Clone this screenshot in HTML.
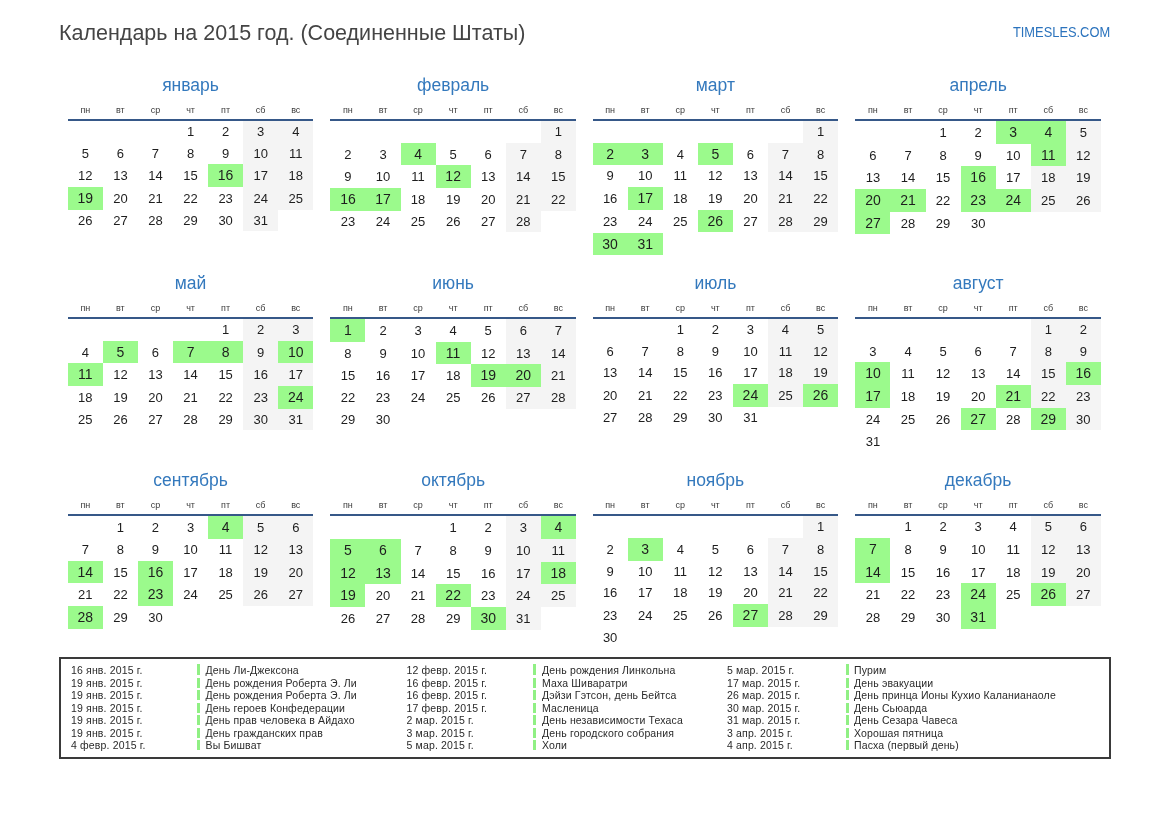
<!DOCTYPE html><html><head><meta charset="utf-8"><style>
*{margin:0;padding:0;box-sizing:border-box}
html,body{width:1169px;height:827px;background:#fff;overflow:hidden}
body{position:relative;font-family:"Liberation Sans",sans-serif;will-change:transform}
.a{position:absolute;white-space:nowrap}
.title{left:59px;top:20px;font-size:21.5px;color:#444;line-height:26px}
.site{right:59px;top:23px;font-size:15.5px;color:#2b73bd;line-height:18px;transform:scaleX(0.83);transform-origin:100% 50%}
.mn{font-size:17.5px;color:#3479bd;text-align:center;width:245.5px;line-height:22px}
.dn{font-size:9px;color:#3c3c3c;text-align:center;width:35.07px;line-height:10px}
.ln{height:2px;width:245.5px;background:#365888}
.c{width:35.07px;text-align:center;font-size:13px;color:#1e1e1e;}
.g{background:#9bfa8c;font-size:14px}
.w{background:#f4f4f4}
.c span{position:absolute;left:0;right:0}
.box{left:59px;top:657px;width:1052px;height:102px;border:2px solid #3a3a3a}
.lg{font-size:10.5px;color:#2a2a2a;line-height:12.5px;letter-spacing:0.15px}
.bar{width:3px;background:#90f084}
</style></head><body>
<div class="a title">Календарь на 2015 год. (Соединенные Штаты)</div>
<div class="a site">TIMESLES.COM</div>
<div class="a mn" style="left:67.8px;top:74.0px">январь</div>
<div class="a dn" style="left:67.8px;top:105.0px">пн</div>
<div class="a dn" style="left:102.87px;top:105.0px">вт</div>
<div class="a dn" style="left:137.94px;top:105.0px">ср</div>
<div class="a dn" style="left:173.01px;top:105.0px">чт</div>
<div class="a dn" style="left:208.07999999999998px;top:105.0px">пт</div>
<div class="a dn" style="left:243.14999999999998px;top:105.0px">сб</div>
<div class="a dn" style="left:278.22px;top:105.0px">вс</div>
<div class="a ln" style="left:67.8px;top:119.0px"></div>
<div class="a c" style="left:173.01px;top:121.00px;height:21.70px;line-height:21.6px">1</div>
<div class="a c" style="left:208.07999999999998px;top:121.00px;height:21.70px;line-height:21.6px">2</div>
<div class="a c w" style="left:243.14999999999998px;top:121.00px;height:21.70px;line-height:21.6px">3</div>
<div class="a c w" style="left:278.22px;top:121.00px;height:21.70px;line-height:21.6px">4</div>
<div class="a c" style="left:67.8px;top:142.70px;height:21.70px;line-height:21.6px">5</div>
<div class="a c" style="left:102.87px;top:142.70px;height:21.70px;line-height:21.6px">6</div>
<div class="a c" style="left:137.94px;top:142.70px;height:21.70px;line-height:21.6px">7</div>
<div class="a c" style="left:173.01px;top:142.70px;height:21.70px;line-height:21.6px">8</div>
<div class="a c" style="left:208.07999999999998px;top:142.70px;height:21.70px;line-height:21.6px">9</div>
<div class="a c w" style="left:243.14999999999998px;top:142.70px;height:21.70px;line-height:21.6px">10</div>
<div class="a c w" style="left:278.22px;top:142.70px;height:21.70px;line-height:21.6px">11</div>
<div class="a c" style="left:67.8px;top:164.40px;height:22.70px;line-height:23.4px">12</div>
<div class="a c" style="left:102.87px;top:164.40px;height:22.70px;line-height:23.4px">13</div>
<div class="a c" style="left:137.94px;top:164.40px;height:22.70px;line-height:23.4px">14</div>
<div class="a c" style="left:173.01px;top:164.40px;height:22.70px;line-height:23.4px">15</div>
<div class="a c g" style="left:208.07999999999998px;top:164.40px;height:22.70px;line-height:22.1px">16</div>
<div class="a c w" style="left:243.14999999999998px;top:164.40px;height:22.70px;line-height:23.4px">17</div>
<div class="a c w" style="left:278.22px;top:164.40px;height:22.70px;line-height:23.4px">18</div>
<div class="a c g" style="left:67.8px;top:187.10px;height:22.70px;line-height:22.1px">19</div>
<div class="a c" style="left:102.87px;top:187.10px;height:22.70px;line-height:23.4px">20</div>
<div class="a c" style="left:137.94px;top:187.10px;height:22.70px;line-height:23.4px">21</div>
<div class="a c" style="left:173.01px;top:187.10px;height:22.70px;line-height:23.4px">22</div>
<div class="a c" style="left:208.07999999999998px;top:187.10px;height:22.70px;line-height:23.4px">23</div>
<div class="a c w" style="left:243.14999999999998px;top:187.10px;height:22.70px;line-height:23.4px">24</div>
<div class="a c w" style="left:278.22px;top:187.10px;height:22.70px;line-height:23.4px">25</div>
<div class="a c" style="left:67.8px;top:209.80px;height:21.70px;line-height:21.6px">26</div>
<div class="a c" style="left:102.87px;top:209.80px;height:21.70px;line-height:21.6px">27</div>
<div class="a c" style="left:137.94px;top:209.80px;height:21.70px;line-height:21.6px">28</div>
<div class="a c" style="left:173.01px;top:209.80px;height:21.70px;line-height:21.6px">29</div>
<div class="a c" style="left:208.07999999999998px;top:209.80px;height:21.70px;line-height:21.6px">30</div>
<div class="a c w" style="left:243.14999999999998px;top:209.80px;height:21.70px;line-height:21.6px">31</div>
<div class="a mn" style="left:330.4px;top:74.0px">февраль</div>
<div class="a dn" style="left:330.4px;top:105.0px">пн</div>
<div class="a dn" style="left:365.46999999999997px;top:105.0px">вт</div>
<div class="a dn" style="left:400.53999999999996px;top:105.0px">ср</div>
<div class="a dn" style="left:435.61px;top:105.0px">чт</div>
<div class="a dn" style="left:470.67999999999995px;top:105.0px">пт</div>
<div class="a dn" style="left:505.75px;top:105.0px">сб</div>
<div class="a dn" style="left:540.8199999999999px;top:105.0px">вс</div>
<div class="a ln" style="left:330.4px;top:119.0px"></div>
<div class="a c w" style="left:540.8199999999999px;top:121.00px;height:21.70px;line-height:21.6px">1</div>
<div class="a c" style="left:330.4px;top:142.70px;height:22.70px;line-height:23.4px">2</div>
<div class="a c" style="left:365.46999999999997px;top:142.70px;height:22.70px;line-height:23.4px">3</div>
<div class="a c g" style="left:400.53999999999996px;top:142.70px;height:22.70px;line-height:22.1px">4</div>
<div class="a c" style="left:435.61px;top:142.70px;height:22.70px;line-height:23.4px">5</div>
<div class="a c" style="left:470.67999999999995px;top:142.70px;height:22.70px;line-height:23.4px">6</div>
<div class="a c w" style="left:505.75px;top:142.70px;height:22.70px;line-height:23.4px">7</div>
<div class="a c w" style="left:540.8199999999999px;top:142.70px;height:22.70px;line-height:23.4px">8</div>
<div class="a c" style="left:330.4px;top:165.40px;height:22.70px;line-height:23.4px">9</div>
<div class="a c" style="left:365.46999999999997px;top:165.40px;height:22.70px;line-height:23.4px">10</div>
<div class="a c" style="left:400.53999999999996px;top:165.40px;height:22.70px;line-height:23.4px">11</div>
<div class="a c g" style="left:435.61px;top:165.40px;height:22.70px;line-height:22.1px">12</div>
<div class="a c" style="left:470.67999999999995px;top:165.40px;height:22.70px;line-height:23.4px">13</div>
<div class="a c w" style="left:505.75px;top:165.40px;height:22.70px;line-height:23.4px">14</div>
<div class="a c w" style="left:540.8199999999999px;top:165.40px;height:22.70px;line-height:23.4px">15</div>
<div class="a c g" style="left:330.4px;top:188.10px;height:22.70px;line-height:22.1px">16</div>
<div class="a c g" style="left:365.46999999999997px;top:188.10px;height:22.70px;line-height:22.1px">17</div>
<div class="a c" style="left:400.53999999999996px;top:188.10px;height:22.70px;line-height:23.4px">18</div>
<div class="a c" style="left:435.61px;top:188.10px;height:22.70px;line-height:23.4px">19</div>
<div class="a c" style="left:470.67999999999995px;top:188.10px;height:22.70px;line-height:23.4px">20</div>
<div class="a c w" style="left:505.75px;top:188.10px;height:22.70px;line-height:23.4px">21</div>
<div class="a c w" style="left:540.8199999999999px;top:188.10px;height:22.70px;line-height:23.4px">22</div>
<div class="a c" style="left:330.4px;top:210.80px;height:21.70px;line-height:21.6px">23</div>
<div class="a c" style="left:365.46999999999997px;top:210.80px;height:21.70px;line-height:21.6px">24</div>
<div class="a c" style="left:400.53999999999996px;top:210.80px;height:21.70px;line-height:21.6px">25</div>
<div class="a c" style="left:435.61px;top:210.80px;height:21.70px;line-height:21.6px">26</div>
<div class="a c" style="left:470.67999999999995px;top:210.80px;height:21.70px;line-height:21.6px">27</div>
<div class="a c w" style="left:505.75px;top:210.80px;height:21.70px;line-height:21.6px">28</div>
<div class="a mn" style="left:592.6px;top:74.0px">март</div>
<div class="a dn" style="left:592.6px;top:105.0px">пн</div>
<div class="a dn" style="left:627.6700000000001px;top:105.0px">вт</div>
<div class="a dn" style="left:662.74px;top:105.0px">ср</div>
<div class="a dn" style="left:697.8100000000001px;top:105.0px">чт</div>
<div class="a dn" style="left:732.88px;top:105.0px">пт</div>
<div class="a dn" style="left:767.95px;top:105.0px">сб</div>
<div class="a dn" style="left:803.02px;top:105.0px">вс</div>
<div class="a ln" style="left:592.6px;top:119.0px"></div>
<div class="a c w" style="left:803.02px;top:121.00px;height:21.70px;line-height:21.6px">1</div>
<div class="a c g" style="left:592.6px;top:142.70px;height:22.70px;line-height:22.1px">2</div>
<div class="a c g" style="left:627.6700000000001px;top:142.70px;height:22.70px;line-height:22.1px">3</div>
<div class="a c" style="left:662.74px;top:142.70px;height:22.70px;line-height:23.4px">4</div>
<div class="a c g" style="left:697.8100000000001px;top:142.70px;height:22.70px;line-height:22.1px">5</div>
<div class="a c" style="left:732.88px;top:142.70px;height:22.70px;line-height:23.4px">6</div>
<div class="a c w" style="left:767.95px;top:142.70px;height:22.70px;line-height:23.4px">7</div>
<div class="a c w" style="left:803.02px;top:142.70px;height:22.70px;line-height:23.4px">8</div>
<div class="a c" style="left:592.6px;top:165.40px;height:21.70px;line-height:21.6px">9</div>
<div class="a c" style="left:627.6700000000001px;top:165.40px;height:21.70px;line-height:21.6px">10</div>
<div class="a c" style="left:662.74px;top:165.40px;height:21.70px;line-height:21.6px">11</div>
<div class="a c" style="left:697.8100000000001px;top:165.40px;height:21.70px;line-height:21.6px">12</div>
<div class="a c" style="left:732.88px;top:165.40px;height:21.70px;line-height:21.6px">13</div>
<div class="a c w" style="left:767.95px;top:165.40px;height:21.70px;line-height:21.6px">14</div>
<div class="a c w" style="left:803.02px;top:165.40px;height:21.70px;line-height:21.6px">15</div>
<div class="a c" style="left:592.6px;top:187.10px;height:22.70px;line-height:23.4px">16</div>
<div class="a c g" style="left:627.6700000000001px;top:187.10px;height:22.70px;line-height:22.1px">17</div>
<div class="a c" style="left:662.74px;top:187.10px;height:22.70px;line-height:23.4px">18</div>
<div class="a c" style="left:697.8100000000001px;top:187.10px;height:22.70px;line-height:23.4px">19</div>
<div class="a c" style="left:732.88px;top:187.10px;height:22.70px;line-height:23.4px">20</div>
<div class="a c w" style="left:767.95px;top:187.10px;height:22.70px;line-height:23.4px">21</div>
<div class="a c w" style="left:803.02px;top:187.10px;height:22.70px;line-height:23.4px">22</div>
<div class="a c" style="left:592.6px;top:209.80px;height:22.70px;line-height:23.4px">23</div>
<div class="a c" style="left:627.6700000000001px;top:209.80px;height:22.70px;line-height:23.4px">24</div>
<div class="a c" style="left:662.74px;top:209.80px;height:22.70px;line-height:23.4px">25</div>
<div class="a c g" style="left:697.8100000000001px;top:209.80px;height:22.70px;line-height:22.1px">26</div>
<div class="a c" style="left:732.88px;top:209.80px;height:22.70px;line-height:23.4px">27</div>
<div class="a c w" style="left:767.95px;top:209.80px;height:22.70px;line-height:23.4px">28</div>
<div class="a c w" style="left:803.02px;top:209.80px;height:22.70px;line-height:23.4px">29</div>
<div class="a c g" style="left:592.6px;top:232.50px;height:22.70px;line-height:22.1px">30</div>
<div class="a c g" style="left:627.6700000000001px;top:232.50px;height:22.70px;line-height:22.1px">31</div>
<div class="a mn" style="left:855.4px;top:74.0px">апрель</div>
<div class="a dn" style="left:855.4px;top:105.0px">пн</div>
<div class="a dn" style="left:890.47px;top:105.0px">вт</div>
<div class="a dn" style="left:925.54px;top:105.0px">ср</div>
<div class="a dn" style="left:960.61px;top:105.0px">чт</div>
<div class="a dn" style="left:995.68px;top:105.0px">пт</div>
<div class="a dn" style="left:1030.75px;top:105.0px">сб</div>
<div class="a dn" style="left:1065.82px;top:105.0px">вс</div>
<div class="a ln" style="left:855.4px;top:119.0px"></div>
<div class="a c" style="left:925.54px;top:121.00px;height:22.70px;line-height:23.4px">1</div>
<div class="a c" style="left:960.61px;top:121.00px;height:22.70px;line-height:23.4px">2</div>
<div class="a c g" style="left:995.68px;top:121.00px;height:22.70px;line-height:22.1px">3</div>
<div class="a c g" style="left:1030.75px;top:121.00px;height:22.70px;line-height:22.1px">4</div>
<div class="a c w" style="left:1065.82px;top:121.00px;height:22.70px;line-height:23.4px">5</div>
<div class="a c" style="left:855.4px;top:143.70px;height:22.70px;line-height:23.4px">6</div>
<div class="a c" style="left:890.47px;top:143.70px;height:22.70px;line-height:23.4px">7</div>
<div class="a c" style="left:925.54px;top:143.70px;height:22.70px;line-height:23.4px">8</div>
<div class="a c" style="left:960.61px;top:143.70px;height:22.70px;line-height:23.4px">9</div>
<div class="a c" style="left:995.68px;top:143.70px;height:22.70px;line-height:23.4px">10</div>
<div class="a c g" style="left:1030.75px;top:143.70px;height:22.70px;line-height:22.1px">11</div>
<div class="a c w" style="left:1065.82px;top:143.70px;height:22.70px;line-height:23.4px">12</div>
<div class="a c" style="left:855.4px;top:166.40px;height:22.70px;line-height:23.4px">13</div>
<div class="a c" style="left:890.47px;top:166.40px;height:22.70px;line-height:23.4px">14</div>
<div class="a c" style="left:925.54px;top:166.40px;height:22.70px;line-height:23.4px">15</div>
<div class="a c g" style="left:960.61px;top:166.40px;height:22.70px;line-height:22.1px">16</div>
<div class="a c" style="left:995.68px;top:166.40px;height:22.70px;line-height:23.4px">17</div>
<div class="a c w" style="left:1030.75px;top:166.40px;height:22.70px;line-height:23.4px">18</div>
<div class="a c w" style="left:1065.82px;top:166.40px;height:22.70px;line-height:23.4px">19</div>
<div class="a c g" style="left:855.4px;top:189.10px;height:22.70px;line-height:22.1px">20</div>
<div class="a c g" style="left:890.47px;top:189.10px;height:22.70px;line-height:22.1px">21</div>
<div class="a c" style="left:925.54px;top:189.10px;height:22.70px;line-height:23.4px">22</div>
<div class="a c g" style="left:960.61px;top:189.10px;height:22.70px;line-height:22.1px">23</div>
<div class="a c g" style="left:995.68px;top:189.10px;height:22.70px;line-height:22.1px">24</div>
<div class="a c w" style="left:1030.75px;top:189.10px;height:22.70px;line-height:23.4px">25</div>
<div class="a c w" style="left:1065.82px;top:189.10px;height:22.70px;line-height:23.4px">26</div>
<div class="a c g" style="left:855.4px;top:211.80px;height:22.70px;line-height:22.1px">27</div>
<div class="a c" style="left:890.47px;top:211.80px;height:22.70px;line-height:23.4px">28</div>
<div class="a c" style="left:925.54px;top:211.80px;height:22.70px;line-height:23.4px">29</div>
<div class="a c" style="left:960.61px;top:211.80px;height:22.70px;line-height:23.4px">30</div>
<div class="a mn" style="left:67.8px;top:272.0px">май</div>
<div class="a dn" style="left:67.8px;top:303.0px">пн</div>
<div class="a dn" style="left:102.87px;top:303.0px">вт</div>
<div class="a dn" style="left:137.94px;top:303.0px">ср</div>
<div class="a dn" style="left:173.01px;top:303.0px">чт</div>
<div class="a dn" style="left:208.07999999999998px;top:303.0px">пт</div>
<div class="a dn" style="left:243.14999999999998px;top:303.0px">сб</div>
<div class="a dn" style="left:278.22px;top:303.0px">вс</div>
<div class="a ln" style="left:67.8px;top:317.0px"></div>
<div class="a c" style="left:208.07999999999998px;top:319.00px;height:21.70px;line-height:21.6px">1</div>
<div class="a c w" style="left:243.14999999999998px;top:319.00px;height:21.70px;line-height:21.6px">2</div>
<div class="a c w" style="left:278.22px;top:319.00px;height:21.70px;line-height:21.6px">3</div>
<div class="a c" style="left:67.8px;top:340.70px;height:22.70px;line-height:23.4px">4</div>
<div class="a c g" style="left:102.87px;top:340.70px;height:22.70px;line-height:22.1px">5</div>
<div class="a c" style="left:137.94px;top:340.70px;height:22.70px;line-height:23.4px">6</div>
<div class="a c g" style="left:173.01px;top:340.70px;height:22.70px;line-height:22.1px">7</div>
<div class="a c g" style="left:208.07999999999998px;top:340.70px;height:22.70px;line-height:22.1px">8</div>
<div class="a c w" style="left:243.14999999999998px;top:340.70px;height:22.70px;line-height:23.4px">9</div>
<div class="a c g" style="left:278.22px;top:340.70px;height:22.70px;line-height:22.1px">10</div>
<div class="a c g" style="left:67.8px;top:363.40px;height:22.70px;line-height:22.1px">11</div>
<div class="a c" style="left:102.87px;top:363.40px;height:22.70px;line-height:23.4px">12</div>
<div class="a c" style="left:137.94px;top:363.40px;height:22.70px;line-height:23.4px">13</div>
<div class="a c" style="left:173.01px;top:363.40px;height:22.70px;line-height:23.4px">14</div>
<div class="a c" style="left:208.07999999999998px;top:363.40px;height:22.70px;line-height:23.4px">15</div>
<div class="a c w" style="left:243.14999999999998px;top:363.40px;height:22.70px;line-height:23.4px">16</div>
<div class="a c w" style="left:278.22px;top:363.40px;height:22.70px;line-height:23.4px">17</div>
<div class="a c" style="left:67.8px;top:386.10px;height:22.70px;line-height:23.4px">18</div>
<div class="a c" style="left:102.87px;top:386.10px;height:22.70px;line-height:23.4px">19</div>
<div class="a c" style="left:137.94px;top:386.10px;height:22.70px;line-height:23.4px">20</div>
<div class="a c" style="left:173.01px;top:386.10px;height:22.70px;line-height:23.4px">21</div>
<div class="a c" style="left:208.07999999999998px;top:386.10px;height:22.70px;line-height:23.4px">22</div>
<div class="a c w" style="left:243.14999999999998px;top:386.10px;height:22.70px;line-height:23.4px">23</div>
<div class="a c g" style="left:278.22px;top:386.10px;height:22.70px;line-height:22.1px">24</div>
<div class="a c" style="left:67.8px;top:408.80px;height:21.70px;line-height:21.6px">25</div>
<div class="a c" style="left:102.87px;top:408.80px;height:21.70px;line-height:21.6px">26</div>
<div class="a c" style="left:137.94px;top:408.80px;height:21.70px;line-height:21.6px">27</div>
<div class="a c" style="left:173.01px;top:408.80px;height:21.70px;line-height:21.6px">28</div>
<div class="a c" style="left:208.07999999999998px;top:408.80px;height:21.70px;line-height:21.6px">29</div>
<div class="a c w" style="left:243.14999999999998px;top:408.80px;height:21.70px;line-height:21.6px">30</div>
<div class="a c w" style="left:278.22px;top:408.80px;height:21.70px;line-height:21.6px">31</div>
<div class="a mn" style="left:330.4px;top:272.0px">июнь</div>
<div class="a dn" style="left:330.4px;top:303.0px">пн</div>
<div class="a dn" style="left:365.46999999999997px;top:303.0px">вт</div>
<div class="a dn" style="left:400.53999999999996px;top:303.0px">ср</div>
<div class="a dn" style="left:435.61px;top:303.0px">чт</div>
<div class="a dn" style="left:470.67999999999995px;top:303.0px">пт</div>
<div class="a dn" style="left:505.75px;top:303.0px">сб</div>
<div class="a dn" style="left:540.8199999999999px;top:303.0px">вс</div>
<div class="a ln" style="left:330.4px;top:317.0px"></div>
<div class="a c g" style="left:330.4px;top:319.00px;height:22.70px;line-height:22.1px">1</div>
<div class="a c" style="left:365.46999999999997px;top:319.00px;height:22.70px;line-height:23.4px">2</div>
<div class="a c" style="left:400.53999999999996px;top:319.00px;height:22.70px;line-height:23.4px">3</div>
<div class="a c" style="left:435.61px;top:319.00px;height:22.70px;line-height:23.4px">4</div>
<div class="a c" style="left:470.67999999999995px;top:319.00px;height:22.70px;line-height:23.4px">5</div>
<div class="a c w" style="left:505.75px;top:319.00px;height:22.70px;line-height:23.4px">6</div>
<div class="a c w" style="left:540.8199999999999px;top:319.00px;height:22.70px;line-height:23.4px">7</div>
<div class="a c" style="left:330.4px;top:341.70px;height:22.70px;line-height:23.4px">8</div>
<div class="a c" style="left:365.46999999999997px;top:341.70px;height:22.70px;line-height:23.4px">9</div>
<div class="a c" style="left:400.53999999999996px;top:341.70px;height:22.70px;line-height:23.4px">10</div>
<div class="a c g" style="left:435.61px;top:341.70px;height:22.70px;line-height:22.1px">11</div>
<div class="a c" style="left:470.67999999999995px;top:341.70px;height:22.70px;line-height:23.4px">12</div>
<div class="a c w" style="left:505.75px;top:341.70px;height:22.70px;line-height:23.4px">13</div>
<div class="a c w" style="left:540.8199999999999px;top:341.70px;height:22.70px;line-height:23.4px">14</div>
<div class="a c" style="left:330.4px;top:364.40px;height:22.70px;line-height:23.4px">15</div>
<div class="a c" style="left:365.46999999999997px;top:364.40px;height:22.70px;line-height:23.4px">16</div>
<div class="a c" style="left:400.53999999999996px;top:364.40px;height:22.70px;line-height:23.4px">17</div>
<div class="a c" style="left:435.61px;top:364.40px;height:22.70px;line-height:23.4px">18</div>
<div class="a c g" style="left:470.67999999999995px;top:364.40px;height:22.70px;line-height:22.1px">19</div>
<div class="a c g" style="left:505.75px;top:364.40px;height:22.70px;line-height:22.1px">20</div>
<div class="a c w" style="left:540.8199999999999px;top:364.40px;height:22.70px;line-height:23.4px">21</div>
<div class="a c" style="left:330.4px;top:387.10px;height:21.70px;line-height:21.6px">22</div>
<div class="a c" style="left:365.46999999999997px;top:387.10px;height:21.70px;line-height:21.6px">23</div>
<div class="a c" style="left:400.53999999999996px;top:387.10px;height:21.70px;line-height:21.6px">24</div>
<div class="a c" style="left:435.61px;top:387.10px;height:21.70px;line-height:21.6px">25</div>
<div class="a c" style="left:470.67999999999995px;top:387.10px;height:21.70px;line-height:21.6px">26</div>
<div class="a c w" style="left:505.75px;top:387.10px;height:21.70px;line-height:21.6px">27</div>
<div class="a c w" style="left:540.8199999999999px;top:387.10px;height:21.70px;line-height:21.6px">28</div>
<div class="a c" style="left:330.4px;top:408.80px;height:21.70px;line-height:21.6px">29</div>
<div class="a c" style="left:365.46999999999997px;top:408.80px;height:21.70px;line-height:21.6px">30</div>
<div class="a mn" style="left:592.6px;top:272.0px">июль</div>
<div class="a dn" style="left:592.6px;top:303.0px">пн</div>
<div class="a dn" style="left:627.6700000000001px;top:303.0px">вт</div>
<div class="a dn" style="left:662.74px;top:303.0px">ср</div>
<div class="a dn" style="left:697.8100000000001px;top:303.0px">чт</div>
<div class="a dn" style="left:732.88px;top:303.0px">пт</div>
<div class="a dn" style="left:767.95px;top:303.0px">сб</div>
<div class="a dn" style="left:803.02px;top:303.0px">вс</div>
<div class="a ln" style="left:592.6px;top:317.0px"></div>
<div class="a c" style="left:662.74px;top:319.00px;height:21.70px;line-height:21.6px">1</div>
<div class="a c" style="left:697.8100000000001px;top:319.00px;height:21.70px;line-height:21.6px">2</div>
<div class="a c" style="left:732.88px;top:319.00px;height:21.70px;line-height:21.6px">3</div>
<div class="a c w" style="left:767.95px;top:319.00px;height:21.70px;line-height:21.6px">4</div>
<div class="a c w" style="left:803.02px;top:319.00px;height:21.70px;line-height:21.6px">5</div>
<div class="a c" style="left:592.6px;top:340.70px;height:21.70px;line-height:21.6px">6</div>
<div class="a c" style="left:627.6700000000001px;top:340.70px;height:21.70px;line-height:21.6px">7</div>
<div class="a c" style="left:662.74px;top:340.70px;height:21.70px;line-height:21.6px">8</div>
<div class="a c" style="left:697.8100000000001px;top:340.70px;height:21.70px;line-height:21.6px">9</div>
<div class="a c" style="left:732.88px;top:340.70px;height:21.70px;line-height:21.6px">10</div>
<div class="a c w" style="left:767.95px;top:340.70px;height:21.70px;line-height:21.6px">11</div>
<div class="a c w" style="left:803.02px;top:340.70px;height:21.70px;line-height:21.6px">12</div>
<div class="a c" style="left:592.6px;top:362.40px;height:21.70px;line-height:21.6px">13</div>
<div class="a c" style="left:627.6700000000001px;top:362.40px;height:21.70px;line-height:21.6px">14</div>
<div class="a c" style="left:662.74px;top:362.40px;height:21.70px;line-height:21.6px">15</div>
<div class="a c" style="left:697.8100000000001px;top:362.40px;height:21.70px;line-height:21.6px">16</div>
<div class="a c" style="left:732.88px;top:362.40px;height:21.70px;line-height:21.6px">17</div>
<div class="a c w" style="left:767.95px;top:362.40px;height:21.70px;line-height:21.6px">18</div>
<div class="a c w" style="left:803.02px;top:362.40px;height:21.70px;line-height:21.6px">19</div>
<div class="a c" style="left:592.6px;top:384.10px;height:22.70px;line-height:23.4px">20</div>
<div class="a c" style="left:627.6700000000001px;top:384.10px;height:22.70px;line-height:23.4px">21</div>
<div class="a c" style="left:662.74px;top:384.10px;height:22.70px;line-height:23.4px">22</div>
<div class="a c" style="left:697.8100000000001px;top:384.10px;height:22.70px;line-height:23.4px">23</div>
<div class="a c g" style="left:732.88px;top:384.10px;height:22.70px;line-height:22.1px">24</div>
<div class="a c w" style="left:767.95px;top:384.10px;height:22.70px;line-height:23.4px">25</div>
<div class="a c g" style="left:803.02px;top:384.10px;height:22.70px;line-height:22.1px">26</div>
<div class="a c" style="left:592.6px;top:406.80px;height:21.70px;line-height:21.6px">27</div>
<div class="a c" style="left:627.6700000000001px;top:406.80px;height:21.70px;line-height:21.6px">28</div>
<div class="a c" style="left:662.74px;top:406.80px;height:21.70px;line-height:21.6px">29</div>
<div class="a c" style="left:697.8100000000001px;top:406.80px;height:21.70px;line-height:21.6px">30</div>
<div class="a c" style="left:732.88px;top:406.80px;height:21.70px;line-height:21.6px">31</div>
<div class="a mn" style="left:855.4px;top:272.0px">август</div>
<div class="a dn" style="left:855.4px;top:303.0px">пн</div>
<div class="a dn" style="left:890.47px;top:303.0px">вт</div>
<div class="a dn" style="left:925.54px;top:303.0px">ср</div>
<div class="a dn" style="left:960.61px;top:303.0px">чт</div>
<div class="a dn" style="left:995.68px;top:303.0px">пт</div>
<div class="a dn" style="left:1030.75px;top:303.0px">сб</div>
<div class="a dn" style="left:1065.82px;top:303.0px">вс</div>
<div class="a ln" style="left:855.4px;top:317.0px"></div>
<div class="a c w" style="left:1030.75px;top:319.00px;height:21.70px;line-height:21.6px">1</div>
<div class="a c w" style="left:1065.82px;top:319.00px;height:21.70px;line-height:21.6px">2</div>
<div class="a c" style="left:855.4px;top:340.70px;height:21.70px;line-height:21.6px">3</div>
<div class="a c" style="left:890.47px;top:340.70px;height:21.70px;line-height:21.6px">4</div>
<div class="a c" style="left:925.54px;top:340.70px;height:21.70px;line-height:21.6px">5</div>
<div class="a c" style="left:960.61px;top:340.70px;height:21.70px;line-height:21.6px">6</div>
<div class="a c" style="left:995.68px;top:340.70px;height:21.70px;line-height:21.6px">7</div>
<div class="a c w" style="left:1030.75px;top:340.70px;height:21.70px;line-height:21.6px">8</div>
<div class="a c w" style="left:1065.82px;top:340.70px;height:21.70px;line-height:21.6px">9</div>
<div class="a c g" style="left:855.4px;top:362.40px;height:22.70px;line-height:22.1px">10</div>
<div class="a c" style="left:890.47px;top:362.40px;height:22.70px;line-height:23.4px">11</div>
<div class="a c" style="left:925.54px;top:362.40px;height:22.70px;line-height:23.4px">12</div>
<div class="a c" style="left:960.61px;top:362.40px;height:22.70px;line-height:23.4px">13</div>
<div class="a c" style="left:995.68px;top:362.40px;height:22.70px;line-height:23.4px">14</div>
<div class="a c w" style="left:1030.75px;top:362.40px;height:22.70px;line-height:23.4px">15</div>
<div class="a c g" style="left:1065.82px;top:362.40px;height:22.70px;line-height:22.1px">16</div>
<div class="a c g" style="left:855.4px;top:385.10px;height:22.70px;line-height:22.1px">17</div>
<div class="a c" style="left:890.47px;top:385.10px;height:22.70px;line-height:23.4px">18</div>
<div class="a c" style="left:925.54px;top:385.10px;height:22.70px;line-height:23.4px">19</div>
<div class="a c" style="left:960.61px;top:385.10px;height:22.70px;line-height:23.4px">20</div>
<div class="a c g" style="left:995.68px;top:385.10px;height:22.70px;line-height:22.1px">21</div>
<div class="a c w" style="left:1030.75px;top:385.10px;height:22.70px;line-height:23.4px">22</div>
<div class="a c w" style="left:1065.82px;top:385.10px;height:22.70px;line-height:23.4px">23</div>
<div class="a c" style="left:855.4px;top:407.80px;height:22.70px;line-height:23.4px">24</div>
<div class="a c" style="left:890.47px;top:407.80px;height:22.70px;line-height:23.4px">25</div>
<div class="a c" style="left:925.54px;top:407.80px;height:22.70px;line-height:23.4px">26</div>
<div class="a c g" style="left:960.61px;top:407.80px;height:22.70px;line-height:22.1px">27</div>
<div class="a c" style="left:995.68px;top:407.80px;height:22.70px;line-height:23.4px">28</div>
<div class="a c g" style="left:1030.75px;top:407.80px;height:22.70px;line-height:22.1px">29</div>
<div class="a c w" style="left:1065.82px;top:407.80px;height:22.70px;line-height:23.4px">30</div>
<div class="a c" style="left:855.4px;top:430.50px;height:21.70px;line-height:21.6px">31</div>
<div class="a mn" style="left:67.8px;top:469.20000000000005px">сентябрь</div>
<div class="a dn" style="left:67.8px;top:500.20000000000005px">пн</div>
<div class="a dn" style="left:102.87px;top:500.20000000000005px">вт</div>
<div class="a dn" style="left:137.94px;top:500.20000000000005px">ср</div>
<div class="a dn" style="left:173.01px;top:500.20000000000005px">чт</div>
<div class="a dn" style="left:208.07999999999998px;top:500.20000000000005px">пт</div>
<div class="a dn" style="left:243.14999999999998px;top:500.20000000000005px">сб</div>
<div class="a dn" style="left:278.22px;top:500.20000000000005px">вс</div>
<div class="a ln" style="left:67.8px;top:514.2px"></div>
<div class="a c" style="left:102.87px;top:516.20px;height:22.70px;line-height:23.4px">1</div>
<div class="a c" style="left:137.94px;top:516.20px;height:22.70px;line-height:23.4px">2</div>
<div class="a c" style="left:173.01px;top:516.20px;height:22.70px;line-height:23.4px">3</div>
<div class="a c g" style="left:208.07999999999998px;top:516.20px;height:22.70px;line-height:22.1px">4</div>
<div class="a c w" style="left:243.14999999999998px;top:516.20px;height:22.70px;line-height:23.4px">5</div>
<div class="a c w" style="left:278.22px;top:516.20px;height:22.70px;line-height:23.4px">6</div>
<div class="a c" style="left:67.8px;top:538.90px;height:21.70px;line-height:21.6px">7</div>
<div class="a c" style="left:102.87px;top:538.90px;height:21.70px;line-height:21.6px">8</div>
<div class="a c" style="left:137.94px;top:538.90px;height:21.70px;line-height:21.6px">9</div>
<div class="a c" style="left:173.01px;top:538.90px;height:21.70px;line-height:21.6px">10</div>
<div class="a c" style="left:208.07999999999998px;top:538.90px;height:21.70px;line-height:21.6px">11</div>
<div class="a c w" style="left:243.14999999999998px;top:538.90px;height:21.70px;line-height:21.6px">12</div>
<div class="a c w" style="left:278.22px;top:538.90px;height:21.70px;line-height:21.6px">13</div>
<div class="a c g" style="left:67.8px;top:560.60px;height:22.70px;line-height:22.1px">14</div>
<div class="a c" style="left:102.87px;top:560.60px;height:22.70px;line-height:23.4px">15</div>
<div class="a c g" style="left:137.94px;top:560.60px;height:22.70px;line-height:22.1px">16</div>
<div class="a c" style="left:173.01px;top:560.60px;height:22.70px;line-height:23.4px">17</div>
<div class="a c" style="left:208.07999999999998px;top:560.60px;height:22.70px;line-height:23.4px">18</div>
<div class="a c w" style="left:243.14999999999998px;top:560.60px;height:22.70px;line-height:23.4px">19</div>
<div class="a c w" style="left:278.22px;top:560.60px;height:22.70px;line-height:23.4px">20</div>
<div class="a c" style="left:67.8px;top:583.30px;height:22.70px;line-height:23.4px">21</div>
<div class="a c" style="left:102.87px;top:583.30px;height:22.70px;line-height:23.4px">22</div>
<div class="a c g" style="left:137.94px;top:583.30px;height:22.70px;line-height:22.1px">23</div>
<div class="a c" style="left:173.01px;top:583.30px;height:22.70px;line-height:23.4px">24</div>
<div class="a c" style="left:208.07999999999998px;top:583.30px;height:22.70px;line-height:23.4px">25</div>
<div class="a c w" style="left:243.14999999999998px;top:583.30px;height:22.70px;line-height:23.4px">26</div>
<div class="a c w" style="left:278.22px;top:583.30px;height:22.70px;line-height:23.4px">27</div>
<div class="a c g" style="left:67.8px;top:606.00px;height:22.70px;line-height:22.1px">28</div>
<div class="a c" style="left:102.87px;top:606.00px;height:22.70px;line-height:23.4px">29</div>
<div class="a c" style="left:137.94px;top:606.00px;height:22.70px;line-height:23.4px">30</div>
<div class="a mn" style="left:330.4px;top:469.20000000000005px">октябрь</div>
<div class="a dn" style="left:330.4px;top:500.20000000000005px">пн</div>
<div class="a dn" style="left:365.46999999999997px;top:500.20000000000005px">вт</div>
<div class="a dn" style="left:400.53999999999996px;top:500.20000000000005px">ср</div>
<div class="a dn" style="left:435.61px;top:500.20000000000005px">чт</div>
<div class="a dn" style="left:470.67999999999995px;top:500.20000000000005px">пт</div>
<div class="a dn" style="left:505.75px;top:500.20000000000005px">сб</div>
<div class="a dn" style="left:540.8199999999999px;top:500.20000000000005px">вс</div>
<div class="a ln" style="left:330.4px;top:514.2px"></div>
<div class="a c" style="left:435.61px;top:516.20px;height:22.70px;line-height:23.4px">1</div>
<div class="a c" style="left:470.67999999999995px;top:516.20px;height:22.70px;line-height:23.4px">2</div>
<div class="a c w" style="left:505.75px;top:516.20px;height:22.70px;line-height:23.4px">3</div>
<div class="a c g" style="left:540.8199999999999px;top:516.20px;height:22.70px;line-height:22.1px">4</div>
<div class="a c g" style="left:330.4px;top:538.90px;height:22.70px;line-height:22.1px">5</div>
<div class="a c g" style="left:365.46999999999997px;top:538.90px;height:22.70px;line-height:22.1px">6</div>
<div class="a c" style="left:400.53999999999996px;top:538.90px;height:22.70px;line-height:23.4px">7</div>
<div class="a c" style="left:435.61px;top:538.90px;height:22.70px;line-height:23.4px">8</div>
<div class="a c" style="left:470.67999999999995px;top:538.90px;height:22.70px;line-height:23.4px">9</div>
<div class="a c w" style="left:505.75px;top:538.90px;height:22.70px;line-height:23.4px">10</div>
<div class="a c w" style="left:540.8199999999999px;top:538.90px;height:22.70px;line-height:23.4px">11</div>
<div class="a c g" style="left:330.4px;top:561.60px;height:22.70px;line-height:22.1px">12</div>
<div class="a c g" style="left:365.46999999999997px;top:561.60px;height:22.70px;line-height:22.1px">13</div>
<div class="a c" style="left:400.53999999999996px;top:561.60px;height:22.70px;line-height:23.4px">14</div>
<div class="a c" style="left:435.61px;top:561.60px;height:22.70px;line-height:23.4px">15</div>
<div class="a c" style="left:470.67999999999995px;top:561.60px;height:22.70px;line-height:23.4px">16</div>
<div class="a c w" style="left:505.75px;top:561.60px;height:22.70px;line-height:23.4px">17</div>
<div class="a c g" style="left:540.8199999999999px;top:561.60px;height:22.70px;line-height:22.1px">18</div>
<div class="a c g" style="left:330.4px;top:584.30px;height:22.70px;line-height:22.1px">19</div>
<div class="a c" style="left:365.46999999999997px;top:584.30px;height:22.70px;line-height:23.4px">20</div>
<div class="a c" style="left:400.53999999999996px;top:584.30px;height:22.70px;line-height:23.4px">21</div>
<div class="a c g" style="left:435.61px;top:584.30px;height:22.70px;line-height:22.1px">22</div>
<div class="a c" style="left:470.67999999999995px;top:584.30px;height:22.70px;line-height:23.4px">23</div>
<div class="a c w" style="left:505.75px;top:584.30px;height:22.70px;line-height:23.4px">24</div>
<div class="a c w" style="left:540.8199999999999px;top:584.30px;height:22.70px;line-height:23.4px">25</div>
<div class="a c" style="left:330.4px;top:607.00px;height:22.70px;line-height:23.4px">26</div>
<div class="a c" style="left:365.46999999999997px;top:607.00px;height:22.70px;line-height:23.4px">27</div>
<div class="a c" style="left:400.53999999999996px;top:607.00px;height:22.70px;line-height:23.4px">28</div>
<div class="a c" style="left:435.61px;top:607.00px;height:22.70px;line-height:23.4px">29</div>
<div class="a c g" style="left:470.67999999999995px;top:607.00px;height:22.70px;line-height:22.1px">30</div>
<div class="a c w" style="left:505.75px;top:607.00px;height:22.70px;line-height:23.4px">31</div>
<div class="a mn" style="left:592.6px;top:469.20000000000005px">ноябрь</div>
<div class="a dn" style="left:592.6px;top:500.20000000000005px">пн</div>
<div class="a dn" style="left:627.6700000000001px;top:500.20000000000005px">вт</div>
<div class="a dn" style="left:662.74px;top:500.20000000000005px">ср</div>
<div class="a dn" style="left:697.8100000000001px;top:500.20000000000005px">чт</div>
<div class="a dn" style="left:732.88px;top:500.20000000000005px">пт</div>
<div class="a dn" style="left:767.95px;top:500.20000000000005px">сб</div>
<div class="a dn" style="left:803.02px;top:500.20000000000005px">вс</div>
<div class="a ln" style="left:592.6px;top:514.2px"></div>
<div class="a c w" style="left:803.02px;top:516.20px;height:21.70px;line-height:21.6px">1</div>
<div class="a c" style="left:592.6px;top:537.90px;height:22.70px;line-height:23.4px">2</div>
<div class="a c g" style="left:627.6700000000001px;top:537.90px;height:22.70px;line-height:22.1px">3</div>
<div class="a c" style="left:662.74px;top:537.90px;height:22.70px;line-height:23.4px">4</div>
<div class="a c" style="left:697.8100000000001px;top:537.90px;height:22.70px;line-height:23.4px">5</div>
<div class="a c" style="left:732.88px;top:537.90px;height:22.70px;line-height:23.4px">6</div>
<div class="a c w" style="left:767.95px;top:537.90px;height:22.70px;line-height:23.4px">7</div>
<div class="a c w" style="left:803.02px;top:537.90px;height:22.70px;line-height:23.4px">8</div>
<div class="a c" style="left:592.6px;top:560.60px;height:21.70px;line-height:21.6px">9</div>
<div class="a c" style="left:627.6700000000001px;top:560.60px;height:21.70px;line-height:21.6px">10</div>
<div class="a c" style="left:662.74px;top:560.60px;height:21.70px;line-height:21.6px">11</div>
<div class="a c" style="left:697.8100000000001px;top:560.60px;height:21.70px;line-height:21.6px">12</div>
<div class="a c" style="left:732.88px;top:560.60px;height:21.70px;line-height:21.6px">13</div>
<div class="a c w" style="left:767.95px;top:560.60px;height:21.70px;line-height:21.6px">14</div>
<div class="a c w" style="left:803.02px;top:560.60px;height:21.70px;line-height:21.6px">15</div>
<div class="a c" style="left:592.6px;top:582.30px;height:21.70px;line-height:21.6px">16</div>
<div class="a c" style="left:627.6700000000001px;top:582.30px;height:21.70px;line-height:21.6px">17</div>
<div class="a c" style="left:662.74px;top:582.30px;height:21.70px;line-height:21.6px">18</div>
<div class="a c" style="left:697.8100000000001px;top:582.30px;height:21.70px;line-height:21.6px">19</div>
<div class="a c" style="left:732.88px;top:582.30px;height:21.70px;line-height:21.6px">20</div>
<div class="a c w" style="left:767.95px;top:582.30px;height:21.70px;line-height:21.6px">21</div>
<div class="a c w" style="left:803.02px;top:582.30px;height:21.70px;line-height:21.6px">22</div>
<div class="a c" style="left:592.6px;top:604.00px;height:22.70px;line-height:23.4px">23</div>
<div class="a c" style="left:627.6700000000001px;top:604.00px;height:22.70px;line-height:23.4px">24</div>
<div class="a c" style="left:662.74px;top:604.00px;height:22.70px;line-height:23.4px">25</div>
<div class="a c" style="left:697.8100000000001px;top:604.00px;height:22.70px;line-height:23.4px">26</div>
<div class="a c g" style="left:732.88px;top:604.00px;height:22.70px;line-height:22.1px">27</div>
<div class="a c w" style="left:767.95px;top:604.00px;height:22.70px;line-height:23.4px">28</div>
<div class="a c w" style="left:803.02px;top:604.00px;height:22.70px;line-height:23.4px">29</div>
<div class="a c" style="left:592.6px;top:626.70px;height:21.70px;line-height:21.6px">30</div>
<div class="a mn" style="left:855.4px;top:469.20000000000005px">декабрь</div>
<div class="a dn" style="left:855.4px;top:500.20000000000005px">пн</div>
<div class="a dn" style="left:890.47px;top:500.20000000000005px">вт</div>
<div class="a dn" style="left:925.54px;top:500.20000000000005px">ср</div>
<div class="a dn" style="left:960.61px;top:500.20000000000005px">чт</div>
<div class="a dn" style="left:995.68px;top:500.20000000000005px">пт</div>
<div class="a dn" style="left:1030.75px;top:500.20000000000005px">сб</div>
<div class="a dn" style="left:1065.82px;top:500.20000000000005px">вс</div>
<div class="a ln" style="left:855.4px;top:514.2px"></div>
<div class="a c" style="left:890.47px;top:516.20px;height:21.70px;line-height:21.6px">1</div>
<div class="a c" style="left:925.54px;top:516.20px;height:21.70px;line-height:21.6px">2</div>
<div class="a c" style="left:960.61px;top:516.20px;height:21.70px;line-height:21.6px">3</div>
<div class="a c" style="left:995.68px;top:516.20px;height:21.70px;line-height:21.6px">4</div>
<div class="a c w" style="left:1030.75px;top:516.20px;height:21.70px;line-height:21.6px">5</div>
<div class="a c w" style="left:1065.82px;top:516.20px;height:21.70px;line-height:21.6px">6</div>
<div class="a c g" style="left:855.4px;top:537.90px;height:22.70px;line-height:22.1px">7</div>
<div class="a c" style="left:890.47px;top:537.90px;height:22.70px;line-height:23.4px">8</div>
<div class="a c" style="left:925.54px;top:537.90px;height:22.70px;line-height:23.4px">9</div>
<div class="a c" style="left:960.61px;top:537.90px;height:22.70px;line-height:23.4px">10</div>
<div class="a c" style="left:995.68px;top:537.90px;height:22.70px;line-height:23.4px">11</div>
<div class="a c w" style="left:1030.75px;top:537.90px;height:22.70px;line-height:23.4px">12</div>
<div class="a c w" style="left:1065.82px;top:537.90px;height:22.70px;line-height:23.4px">13</div>
<div class="a c g" style="left:855.4px;top:560.60px;height:22.70px;line-height:22.1px">14</div>
<div class="a c" style="left:890.47px;top:560.60px;height:22.70px;line-height:23.4px">15</div>
<div class="a c" style="left:925.54px;top:560.60px;height:22.70px;line-height:23.4px">16</div>
<div class="a c" style="left:960.61px;top:560.60px;height:22.70px;line-height:23.4px">17</div>
<div class="a c" style="left:995.68px;top:560.60px;height:22.70px;line-height:23.4px">18</div>
<div class="a c w" style="left:1030.75px;top:560.60px;height:22.70px;line-height:23.4px">19</div>
<div class="a c w" style="left:1065.82px;top:560.60px;height:22.70px;line-height:23.4px">20</div>
<div class="a c" style="left:855.4px;top:583.30px;height:22.70px;line-height:23.4px">21</div>
<div class="a c" style="left:890.47px;top:583.30px;height:22.70px;line-height:23.4px">22</div>
<div class="a c" style="left:925.54px;top:583.30px;height:22.70px;line-height:23.4px">23</div>
<div class="a c g" style="left:960.61px;top:583.30px;height:22.70px;line-height:22.1px">24</div>
<div class="a c" style="left:995.68px;top:583.30px;height:22.70px;line-height:23.4px">25</div>
<div class="a c g" style="left:1030.75px;top:583.30px;height:22.70px;line-height:22.1px">26</div>
<div class="a c w" style="left:1065.82px;top:583.30px;height:22.70px;line-height:23.4px">27</div>
<div class="a c" style="left:855.4px;top:606.00px;height:22.70px;line-height:23.4px">28</div>
<div class="a c" style="left:890.47px;top:606.00px;height:22.70px;line-height:23.4px">29</div>
<div class="a c" style="left:925.54px;top:606.00px;height:22.70px;line-height:23.4px">30</div>
<div class="a c g" style="left:960.61px;top:606.00px;height:22.70px;line-height:22.1px">31</div>
<div class="a box"></div>
<div class="a lg" style="left:71px;top:664.0px">16 янв. 2015 г.</div>
<div class="a bar" style="left:197px;top:664.0px;height:11px"></div>
<div class="a lg" style="left:205.5px;top:664.0px">День Ли-Джексона</div>
<div class="a lg" style="left:71px;top:676.5px">19 янв. 2015 г.</div>
<div class="a bar" style="left:197px;top:677.5px;height:10px"></div>
<div class="a lg" style="left:205.5px;top:676.5px">День рождения Роберта Э. Ли</div>
<div class="a lg" style="left:71px;top:689.0px">19 янв. 2015 г.</div>
<div class="a bar" style="left:197px;top:690.0px;height:10px"></div>
<div class="a lg" style="left:205.5px;top:689.0px">День рождения Роберта Э. Ли</div>
<div class="a lg" style="left:71px;top:701.5px">19 янв. 2015 г.</div>
<div class="a bar" style="left:197px;top:702.5px;height:10px"></div>
<div class="a lg" style="left:205.5px;top:701.5px">День героев Конфедерации</div>
<div class="a lg" style="left:71px;top:714.0px">19 янв. 2015 г.</div>
<div class="a bar" style="left:197px;top:715.0px;height:10px"></div>
<div class="a lg" style="left:205.5px;top:714.0px">День прав человека в Айдахо</div>
<div class="a lg" style="left:71px;top:726.5px">19 янв. 2015 г.</div>
<div class="a bar" style="left:197px;top:727.5px;height:10px"></div>
<div class="a lg" style="left:205.5px;top:726.5px">День гражданских прав</div>
<div class="a lg" style="left:71px;top:739.0px">4 февр. 2015 г.</div>
<div class="a bar" style="left:197px;top:740.0px;height:10px"></div>
<div class="a lg" style="left:205.5px;top:739.0px">Вы Бишват</div>
<div class="a lg" style="left:406.5px;top:664.0px">12 февр. 2015 г.</div>
<div class="a bar" style="left:533px;top:664.0px;height:11px"></div>
<div class="a lg" style="left:542px;top:664.0px">День рождения Линкольна</div>
<div class="a lg" style="left:406.5px;top:676.5px">16 февр. 2015 г.</div>
<div class="a bar" style="left:533px;top:677.5px;height:10px"></div>
<div class="a lg" style="left:542px;top:676.5px">Маха Шиваратри</div>
<div class="a lg" style="left:406.5px;top:689.0px">16 февр. 2015 г.</div>
<div class="a bar" style="left:533px;top:690.0px;height:10px"></div>
<div class="a lg" style="left:542px;top:689.0px">Дэйзи Гэтсон, день Бейтса</div>
<div class="a lg" style="left:406.5px;top:701.5px">17 февр. 2015 г.</div>
<div class="a bar" style="left:533px;top:702.5px;height:10px"></div>
<div class="a lg" style="left:542px;top:701.5px">Масленица</div>
<div class="a lg" style="left:406.5px;top:714.0px">2 мар. 2015 г.</div>
<div class="a bar" style="left:533px;top:715.0px;height:10px"></div>
<div class="a lg" style="left:542px;top:714.0px">День независимости Техаса</div>
<div class="a lg" style="left:406.5px;top:726.5px">3 мар. 2015 г.</div>
<div class="a bar" style="left:533px;top:727.5px;height:10px"></div>
<div class="a lg" style="left:542px;top:726.5px">День городского собрания</div>
<div class="a lg" style="left:406.5px;top:739.0px">5 мар. 2015 г.</div>
<div class="a bar" style="left:533px;top:740.0px;height:10px"></div>
<div class="a lg" style="left:542px;top:739.0px">Холи</div>
<div class="a lg" style="left:727px;top:664.0px">5 мар. 2015 г.</div>
<div class="a bar" style="left:846px;top:664.0px;height:11px"></div>
<div class="a lg" style="left:854px;top:664.0px">Пурим</div>
<div class="a lg" style="left:727px;top:676.5px">17 мар. 2015 г.</div>
<div class="a bar" style="left:846px;top:677.5px;height:10px"></div>
<div class="a lg" style="left:854px;top:676.5px">День эвакуации</div>
<div class="a lg" style="left:727px;top:689.0px">26 мар. 2015 г.</div>
<div class="a bar" style="left:846px;top:690.0px;height:10px"></div>
<div class="a lg" style="left:854px;top:689.0px">День принца Ионы Кухио Каланианаоле</div>
<div class="a lg" style="left:727px;top:701.5px">30 мар. 2015 г.</div>
<div class="a bar" style="left:846px;top:702.5px;height:10px"></div>
<div class="a lg" style="left:854px;top:701.5px">День Сьюарда</div>
<div class="a lg" style="left:727px;top:714.0px">31 мар. 2015 г.</div>
<div class="a bar" style="left:846px;top:715.0px;height:10px"></div>
<div class="a lg" style="left:854px;top:714.0px">День Сезара Чавеса</div>
<div class="a lg" style="left:727px;top:726.5px">3 апр. 2015 г.</div>
<div class="a bar" style="left:846px;top:727.5px;height:10px"></div>
<div class="a lg" style="left:854px;top:726.5px">Хорошая пятница</div>
<div class="a lg" style="left:727px;top:739.0px">4 апр. 2015 г.</div>
<div class="a bar" style="left:846px;top:740.0px;height:10px"></div>
<div class="a lg" style="left:854px;top:739.0px">Пасха (первый день)</div>
</body></html>
